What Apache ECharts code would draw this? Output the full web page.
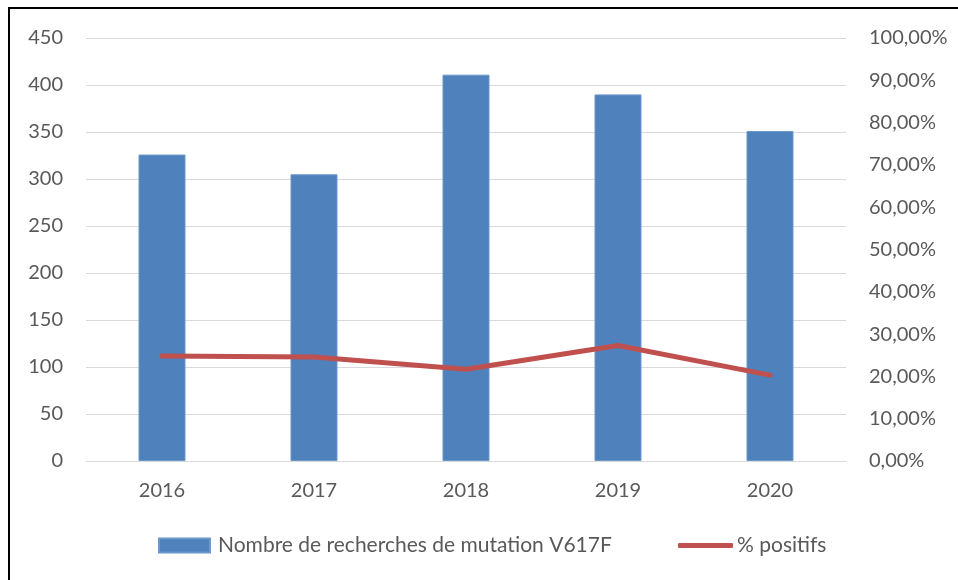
<!DOCTYPE html>
<html>
<head>
<meta charset="utf-8">
<script src="https://cdn.jsdelivr.net/npm/echarts@6/dist/echarts.min.js"></script>
<style>
  html, body { margin: 0; padding: 0; background: #fff; }
  #main { width: 958px; height: 580px; }
</style>
</head>
<body>
<div id="main"></div>
<script>
let years = ['2016', '2017', '2018', '2019', '2020']
let recherches = [326, 305, 411, 390, 351]
let positifs = [24.8, 24.6, 21.7, 27.3, 20.3]
let barName = 'Nombre de recherches de mutation V617F'
let lineName = '% positifs'

let textColor = '#595959'
let font = 'Lato'

let option = {
    backgroundColor: '#ffffff',
    animation: false,
    textStyle: { fontFamily: font },
    graphic: [
        {
            type: 'polyline',
            shape: { points: [[9, 600], [9, 8], [970, 8]] },
            style: { stroke: '#000', lineWidth: 2, fill: null },
        },
    ],
    grid: { left: 86, right: 112, top: 38, bottom: 119 },
    legend: [
        {
            left: 158,
            top: 535,
            padding: 0,
            itemWidth: 51,
            itemHeight: 14,
            textStyle: { color: textColor, fontSize: 21, fontFamily: font, padding: [0, 0, 0, 3] },
            data: [{ name: barName, icon: 'rect' }],
        },
        {
            left: 678,
            top: 535,
            padding: 0,
            itemWidth: 55,
            itemHeight: 5,
            textStyle: { color: textColor, fontSize: 21, fontFamily: font, padding: [0, 0, 0, -1] },
            data: [{ name: lineName, icon: 'roundRect' }],
        },
    ],
    xAxis: {
        type: 'category',
        data: years,
        axisLine: { lineStyle: { color: '#d9d9d9' } },
        axisTick: { show: false },
        axisLabel: { color: textColor, fontSize: 20, margin: 20 },
    },
    yAxis: [
        {
            type: 'value',
            min: 0,
            max: 450,
            interval: 50,
            axisLine: { show: false },
            axisTick: { show: false },
            splitLine: { lineStyle: { color: '#d9d9d9' } },
            axisLabel: { color: textColor, fontSize: 20, margin: 23 },
        },
        {
            type: 'value',
            min: 0,
            max: 100,
            interval: 10,
            axisLine: { show: false },
            axisTick: { show: false },
            splitLine: { show: false },
            axisLabel: {
                color: textColor,
                fontSize: 20,
                margin: 23,
                formatter: function (v) {
                    return v.toFixed(2).replace('.', ',') + '%'
                },
            },
        },
    ],
    series: [
        {
            name: barName,
            type: 'bar',
            yAxisIndex: 0,
            data: recherches,
            barWidth: 47,
            itemStyle: { color: '#4f81bd', borderColor: '#6c98cc', borderWidth: 1 },
        },
        {
            name: lineName,
            type: 'line',
            yAxisIndex: 1,
            data: positifs,
            symbol: 'none',
            lineStyle: { color: '#c0504d', width: 5, cap: 'round' },
            itemStyle: { color: '#c0504d' },
        },
    ],
}

let myChart = echarts.init(document.getElementById('main'))
myChart.setOption(option)
</script>
</body>
</html>
